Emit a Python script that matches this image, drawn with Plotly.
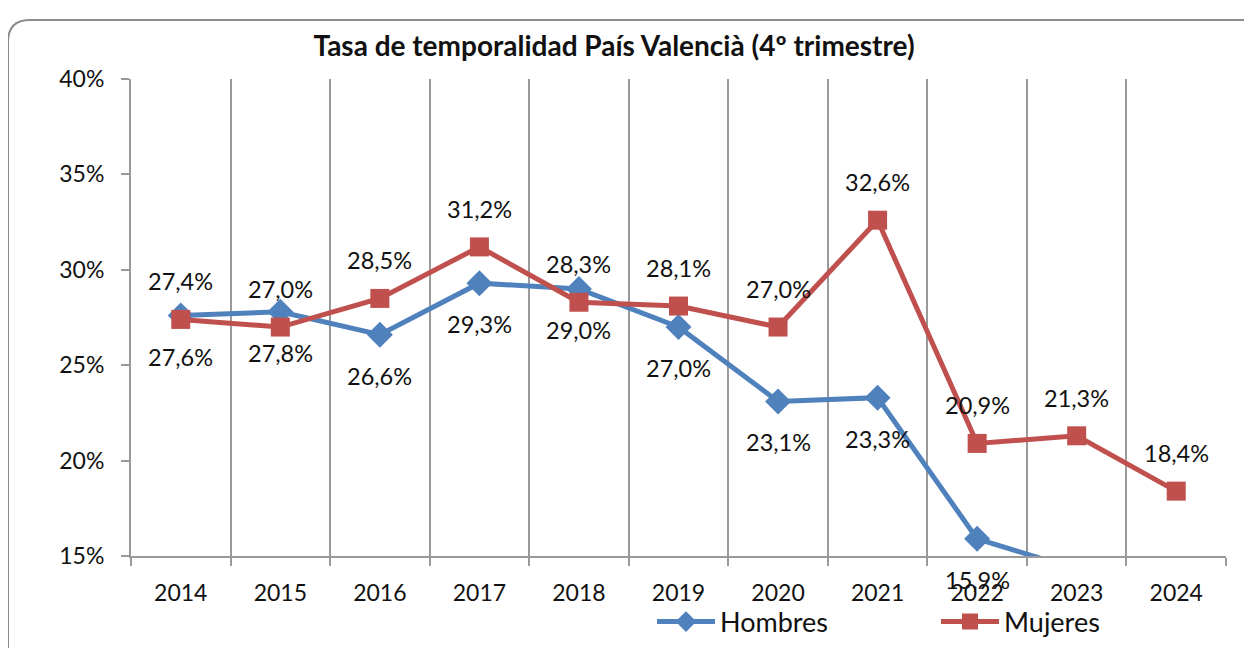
import plotly.graph_objects as go

years = ["2014", "2015", "2016", "2017", "2018", "2019", "2020", "2021", "2022", "2023", "2024"]
hombres = [0.276, 0.278, 0.266, 0.293, 0.290, 0.270, 0.231, 0.233, 0.159, 0.143, 0.136]
mujeres = [0.274, 0.270, 0.285, 0.312, 0.283, 0.281, 0.270, 0.326, 0.209, 0.213, 0.184]

BLUE = "#4F81BD"
RED = "#C0504D"
GRID = "#9a9a9a"
FONT = "Lato, 'Open Sans', sans-serif"

# page body has an 8px margin, so the figure is drawn offset by OFF
OFF = 8
W, H = 1252 - OFF, 648 - OFF
L, R, T, B = 131 - OFF, 26, 79 - OFF, 92
y_min, y_max = 0.15, 0.40

fig = go.Figure()
fig.add_trace(go.Scatter(
    x=years, y=hombres, name="Hombres", mode="lines+markers",
    line=dict(color=BLUE, width=5),
    marker=dict(symbol="diamond", size=20, color=BLUE),
    cliponaxis=True, legend="legend",
))
fig.add_trace(go.Scatter(
    x=years, y=mujeres, name="Mujeres", mode="lines+markers",
    line=dict(color=RED, width=5),
    marker=dict(symbol="square", size=19, color=RED),
    cliponaxis=True, legend="legend2",
))

pw, ph = W - L - R, H - T - B
def px(x):  # screen x -> paper
    return (x - OFF - L) / pw
def py(y):  # screen y -> paper
    return (H - B - (y - OFF)) / ph

x0, y0, x1, y1, r = 8, 20, 1275, 680, 22
path = (f"M {px(x0)},{py(y1)} L {px(x0)},{py(y0 + r)} "
        f"Q {px(x0)},{py(y0)} {px(x0 + r)},{py(y0)} "
        f"L {px(x1 - r)},{py(y0)} Q {px(x1)},{py(y0)} {px(x1)},{py(y0 + r)} "
        f"L {px(x1)},{py(y1)}")

legend_common = dict(
    orientation="h", xanchor="left", yanchor="middle",
    font=dict(family=FONT, size=27, color="#111"),
    itemwidth=58, bgcolor="rgba(0,0,0,0)",
)

fig.update_layout(
    width=W, height=H,
    margin=dict(l=L, r=R, t=T, b=B, autoexpand=False),
    paper_bgcolor="white", plot_bgcolor="white",
    separators=",.",
    font=dict(family=FONT, size=22, color="#111"),
    title=dict(
        text="<b>Tasa de temporalidad País Valencià (4º trimestre)</b>",
        x=(614 - OFF) / W, xanchor="center", xref="container",
        y=1 - (46 - OFF) / H, yanchor="middle", yref="container",
        font=dict(family=FONT, size=28, color="#111"),
    ),
    showlegend=True,
    legend=dict(x=px(652), y=py(622), **legend_common),
    legend2=dict(x=px(936), y=py(622), **legend_common),
    shapes=[dict(type="path", path=path, xref="paper", yref="paper",
                 line=dict(color="#8c8c8c", width=2), layer="below")],
    hovermode=False,
)

# data labels: category index positions (category axis treats numeric strings as indices)
for vals, shift in ((hombres, -41), (mujeres, 38)):
    for i, v in enumerate(vals):
        if v < y_min:
            continue
        fig.add_annotation(
            x=i, y=v, xref="x", yref="y",
            text=f"{v * 100:.1f}%".replace(".", ","),
            showarrow=False, yshift=shift,
            font=dict(family=FONT, size=23.5, color="#111"),
        )

fig.update_xaxes(
    type="category", range=[-0.5, len(years) - 0.5],
    tickson="boundaries", ticks="outside", ticklen=8, tickwidth=2, tickcolor=GRID,
    showgrid=True, gridcolor=GRID, gridwidth=2,
    showline=True, linecolor=GRID, linewidth=2,
    tickfont=dict(family=FONT, size=23, color="#111"),
    ticklabelstandoff=15,
    fixedrange=True, automargin=False,
)
fig.update_yaxes(
    range=[y_min, y_max], dtick=0.05, tickformat=".0%",
    showgrid=False, zeroline=False,
    ticks="outside", ticklen=8, tickwidth=2, tickcolor=GRID,
    showline=True, linecolor=GRID, linewidth=2,
    tickfont=dict(family=FONT, size=23, color="#111"),
    ticklabelstandoff=12,
    fixedrange=True, automargin=False,
)

fig.write_html("out.html")
